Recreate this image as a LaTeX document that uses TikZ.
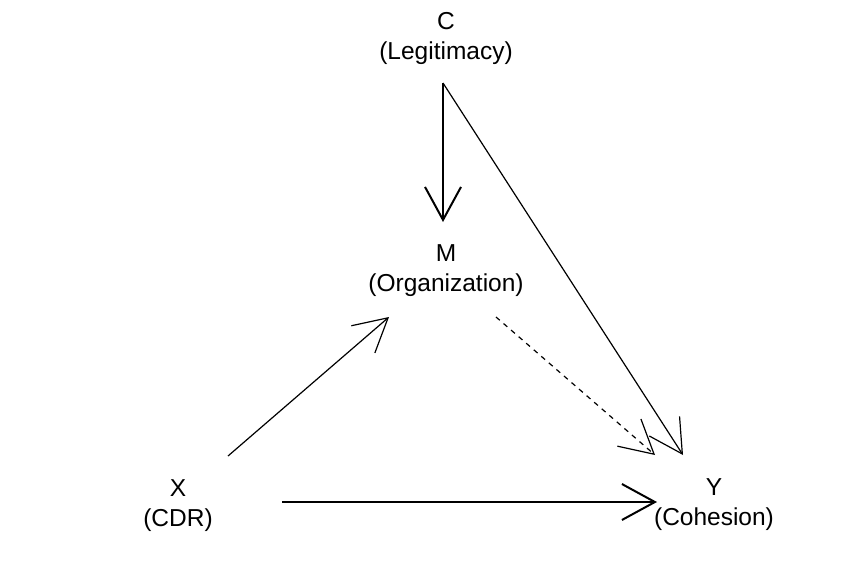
\documentclass[tikz,border=0pt]{standalone}
\usepackage{fontspec}
\setmainfont{Liberation Sans}
\usetikzlibrary{arrows.meta,calc,positioning}

\begin{document}
\begin{tikzpicture}[
    x=1pt, y=-1pt,
    var/.style={align=center, font=\fontsize{24.5}{30}\selectfont, inner sep=0pt},
    path/.style={-{Straight Barb[length=33pt, width=36pt]}, line width=1.2pt},
    mainpath/.style={path, line width=2pt},
    indirect/.style={path, dash pattern=on 5pt off 5pt}
]
    \useasboundingbox (0,0) rectangle (848,560);

    \node[var] (C) at (446,38) {C\\(Legitimacy)};
    \node[var] (M) at (446,271) {M\\(Organization)};
    \node[var] (X) at (178,506) {X\\(CDR)};
    \node[var] (Y) at (714,505) {Y\\(Cohesion)};

    \draw[mainpath] ($(C)+(-3,45)$) -- ($(M)+(-3,-49)$);
    \draw[path] ($(C)+(-3,45)$) -- ($(Y)+(-31,-50)$);
    \draw[indirect] ($(M)+(50,46)$) -- ($(Y)+(-59,-50)$);
    \draw[path] ($(X)+(50,-50)$) -- ($(M)+(-57,46)$);
    \draw[mainpath] ($(X)+(104,-4)$) -- ($(Y)+(-57,-3)$);
\end{tikzpicture}
\end{document}
